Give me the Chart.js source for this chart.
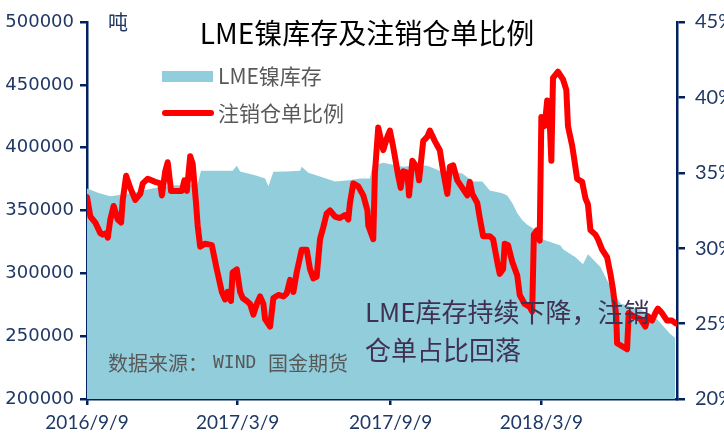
<!DOCTYPE html>
<html lang="zh">
<head>
  <meta charset="UTF-8">
  <title>LME镍库存及注销仓单比例</title>
  <script src="https://cdn.jsdelivr.net/npm/chart.js"></script>
  <style>
    body { margin: 0; background: #fff; }
    canvas { display: block; }
  </style>
</head>
<body>
  <canvas id="nickelChart" width="724" height="436"></canvas>

  <script>
    // x values are days counted from 2016/9/9
    const tickDays = [0, 181, 365, 546];
    const tickLabels = ['2016/9/9', '2017/3/9', '2017/9/9', '2018/3/9'];

    // LME nickel stock (tonnes)
    const stockDays = [0,14,28,37,58,78,106,120,133,137,
      160,175,180,184,202,214,218,224,240,256,
      258,266,280,298,315,328,340,343,356,380,
      395,409,424,451,464,475,484,499,505,511,
      517,523,529,544,548,569,572,587,596,602,
      617,629,641,665,685,701,707];
    const stockValues = [367600,364000,361400,362100,364500,367600,370000,370000,371500,381700,
      381700,381700,385600,381000,378000,375500,369200,380900,381000,381700,
      384800,380000,377000,373100,374000,375500,375500,385600,388000,384800,
      386000,385600,381700,379400,373100,373100,366000,363700,362000,355900,
      348000,342500,338600,332400,326900,322200,319100,312800,307300,315100,
      305000,289300,276000,271300,263500,251700,248600];

    // cancelled warrants ratio (%)
    const ratioDays = [0,4,10,16,19,23,25,28,32,37,
      41,43,47,52,58,64,67,73,82,88,
      90,94,97,101,106,114,117,120,124,127,
      131,133,136,142,150,156,162,166,169,173,
      175,180,184,187,192,196,200,204,208,212,
      214,220,224,230,236,240,244,248,252,258,
      264,268,272,276,280,284,288,292,298,304,
      310,314,316,320,326,332,337,338,344,346,
      350,356,361,364,368,374,377,380,385,387,
      391,397,399,404,409,412,418,424,428,433,
      436,440,445,451,457,460,463,469,472,476,
      484,488,493,496,500,502,506,511,517,520,
      526,532,535,537,541,544,546,550,553,555,
      558,560,566,572,576,578,583,585,589,595,
      599,602,605,611,614,619,625,629,632,636,
      637,643,649,651,656,665,671,674,679,683,
      686,691,697,703,708];
    const ratioValues = [33.4,32.1,31.7,31.0,30.9,31.0,30.7,31.9,32.8,31.9,
      31.7,33.2,34.8,34.0,33.2,33.6,34.3,34.6,34.4,34.3,
      33.5,35.1,35.7,33.8,33.8,33.8,34.5,33.8,36.1,35.6,
      33.0,31.5,30.1,30.3,30.2,28.6,27.1,26.6,27.1,26.5,
      28.4,28.6,27.1,26.7,26.5,26.3,25.6,26.3,26.8,26.3,
      25.3,24.8,26.7,26.9,26.8,27.0,27.9,27.1,28.4,29.9,
      29.9,28.6,28.0,28.1,30.6,31.4,32.3,32.5,32.1,32.0,
      32.2,31.9,33.0,34.3,34.1,33.5,32.5,31.5,30.6,35.0,
      38.0,36.5,37.4,37.8,36.7,34.8,34.0,35.1,35.0,33.5,
      35.8,35.3,34.5,37.1,37.4,37.8,37.1,36.5,35.1,33.6,
      35.4,35.5,34.5,34.0,33.5,34.4,33.6,33.0,32.0,30.8,
      30.8,30.6,29.1,28.3,28.6,30.3,30.2,29.1,28.2,26.9,
      26.3,26.1,25.8,30.9,31.2,30.5,38.7,38.1,39.8,39.7,
      35.8,41.3,41.7,41.2,40.5,38.1,36.8,36.1,34.6,34.4,
      33.3,32.9,31.2,30.9,30.6,29.9,29.4,28.3,27.3,25.5,
      23.7,23.5,23.3,25.7,25.5,25.3,24.8,25.5,25.2,25.7,
      26.0,25.7,25.2,25.2,25.0];

    const navy = '#002060';
    const axisText = '#1F3864';
    const cjk = '"Noto Sans CJK SC", sans-serif';

    // title, unit, hand-drawn legend and notes
    const overlay = {
      id: 'overlay',
      afterDraw(chart) {
        const c = chart.ctx;
        c.save();
        c.textBaseline = 'middle';

        c.textAlign = 'center';
        c.fillStyle = '#000';
        c.font = '28px ' + cjk;
        c.fillText('LME镍库存及注销仓单比例', 367, 33);

        c.fillStyle = axisText;
        c.font = '20px ' + cjk;
        c.fillText('吨', 118, 22);

        c.textAlign = 'left';
        c.fillStyle = '#92CDDC';
        c.fillRect(162, 71, 51, 11);
        c.strokeStyle = '#FF0000';
        c.lineWidth = 6;
        c.lineCap = 'round';
        c.beginPath();
        c.moveTo(165, 113);
        c.lineTo(211, 113);
        c.stroke();
        c.fillStyle = '#595959';
        c.font = '21px ' + cjk;
        c.fillText('LME镍库存', 218, 76);
        c.fillText('注销仓单比例', 218, 113);

        // source line, WIND is set in a fixed-width face like the original
        c.font = '20px ' + cjk;
        c.fillText('数据来源：', 108, 363);
        c.fillText('国金期货', 268, 363);
        c.font = '18px "DejaVu Sans Mono"';
        c.fillText('WIND', 213, 363);

        c.fillStyle = '#403152';
        c.font = '26px ' + cjk;
        c.fillText('LME库存持续下降，注销', 365, 312);
        c.fillText('仓单占比回落', 365, 350);
        c.restore();
      }
    };

    const ctx = document.getElementById('nickelChart').getContext('2d');

    new Chart(ctx, {
      type: 'line',
      data: {
        datasets: [
          {
            label: '注销仓单比例',
            data: ratioDays.map((d, i) => ({ x: d, y: ratioValues[i] })),
            yAxisID: 'y1',
            borderColor: '#FF0000',
            borderWidth: 6,
            borderCapStyle: 'round',
            borderJoinStyle: 'round',
            pointRadius: 0,
            fill: false,
            tension: 0,
            order: 0
          },
          {
            label: 'LME镍库存',
            data: stockDays.map((d, i) => ({ x: d, y: stockValues[i] })),
            yAxisID: 'y',
            borderWidth: 0,
            borderColor: 'rgba(0,0,0,0)',
            backgroundColor: '#92CDDC',
            pointRadius: 0,
            fill: 'start',
            tension: 0,
            order: 1
          }
        ]
      },
      options: {
        responsive: false,
        animation: false,
        layout: { padding: { top: 16, left: 0, right: 0, bottom: 0 } },
        plugins: {
          legend: { display: false },
          tooltip: { enabled: false }
        },
        scales: {
          x: {
            type: 'linear',
            min: 0,
            max: 709,
            afterBuildTicks: scale => { scale.ticks = tickDays.map(v => ({ value: v })); },
            afterFit: scale => { scale.height = 37; },
            ticks: {
              callback: (v, i) => tickLabels[i],
              color: axisText,
              font: { family: 'Lato', size: 19 },
              padding: 6,
              maxRotation: 0,
              autoSkip: false
            },
            grid: { drawOnChartArea: false, tickLength: 6, color: navy, lineWidth: 2.5 },
            border: { color: navy, width: 2.5 }
          },
          y: {
            position: 'left',
            min: 200000,
            max: 500000,
            afterFit: scale => { scale.width = 87; },
            ticks: {
              stepSize: 50000,
              callback: v => String(v),
              color: axisText,
              font: { family: 'DejaVu Sans', size: 18 },
              padding: 6
            },
            grid: { drawOnChartArea: false, tickLength: 7, color: navy, lineWidth: 2.5 },
            border: { color: navy, width: 2.5 }
          },
          y1: {
            position: 'right',
            min: 20,
            max: 45,
            afterFit: scale => { scale.width = 47; },
            ticks: {
              stepSize: 5,
              callback: v => v + '%',
              color: axisText,
              font: { family: 'Lato', size: 20 },
              padding: 10
            },
            grid: { drawOnChartArea: false, tickLength: 8, color: navy, lineWidth: 2.5 },
            border: { color: navy, width: 2.5 }
          }
        }
      },
      plugins: [overlay]
    });
  </script>
</body>
</html>
